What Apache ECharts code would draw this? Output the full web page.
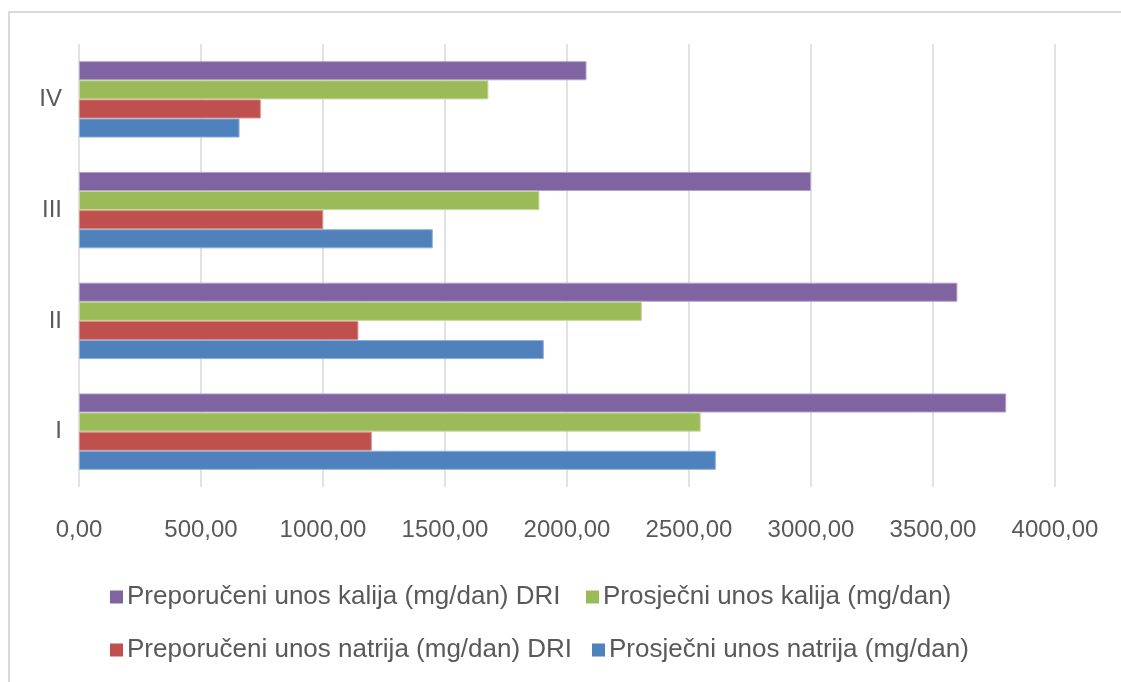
<!DOCTYPE html>
<html>
<head>
<meta charset="utf-8">
<script src="https://cdn.jsdelivr.net/npm/echarts@6/dist/echarts.min.js"></script>
<style>
html,body{margin:0;padding:0;background:#fff;}
#c{width:1121px;height:682px;}
</style>
</head>
<body>
<div id="c"></div>
<script>
const categories = ['I', 'II', 'III', 'IV'];
const xTicks = [0, 500, 1000, 1500, 2000, 2500, 3000, 3500, 4000];
const seriesNames = [
  'Preporučeni unos kalija (mg/dan) DRI',
  'Prosječni unos kalija (mg/dan)',
  'Preporučeni unos natrija (mg/dan) DRI',
  'Prosječni unos natrija (mg/dan)'
];
const preporuceniKalij = [3800, 3600, 3000, 2080];
const prosjecniKalij = [2548, 2307, 1887, 1678];
const preporuceniNatrij = [1200, 1145, 1000, 745];
const prosjecniNatrij = [2610, 1905, 1450, 658];
const colors = ['#8064A2', '#9BBB59', '#C0504D', '#4F81BD'];
const borderColors = ['#B3A0CB', '#C5DA9C', '#DA8C8A', '#8FB0DA'];

const valuesList = [preporuceniKalij, prosjecniKalij, preporuceniNatrij, prosjecniNatrij];
const font = '"Liberation Sans", Arial, sans-serif';
const textColor = '#595959';

const chart = echarts.init(document.getElementById('c'), null, {renderer: 'canvas'});

function legendAt(name, left, top) {
  return {
    data: [name], left: left, top: top, orient: 'horizontal',
    itemWidth: 13, itemHeight: 13, itemGap: 0, icon: 'rect',
    selectedMode: false,
    itemStyle: {borderWidth: 0},
    textStyle: {color: textColor, fontSize: 26, fontFamily: font, padding: [0, 0, 0, -1]}
  };
}

chart.setOption({
  animation: false,
  backgroundColor: '#fff',
  color: colors,
  graphic: [{
    type: 'rect', silent: true, z: -10,
    shape: {x: 9, y: 12, width: 1300, height: 900},
    style: {fill: 'none', stroke: '#D9D9D9', lineWidth: 2}
  }],
  legend: [
    legendAt(seriesNames[0], 105, 579),
    legendAt(seriesNames[1], 581, 579),
    legendAt(seriesNames[2], 105, 632),
    legendAt(seriesNames[3], 587, 632)
  ],
  grid: {left: 79, right: 66, top: 44, bottom: 195, containLabel: false},
  xAxis: {
    type: 'value', min: 0, max: 4000, interval: 500,
    axisLine: {show: false}, axisTick: {show: false},
    splitLine: {show: true, lineStyle: {color: '#D9D9D9', width: 1.5}},
    axisLabel: {
      color: textColor, fontSize: 24, fontFamily: font, margin: 31,
      formatter: v => xTicks.includes(v) ? v.toFixed(2).replace('.', ',') : ''
    }
  },
  yAxis: {
    type: 'category', data: categories,
    axisLine: {show: false}, axisTick: {show: false},
    axisLabel: {color: textColor, fontSize: 24, fontFamily: font, margin: 17}
  },
  series: seriesNames.map((n, i) => ({
    name: n, type: 'bar', data: valuesList[i],
    barGap: '0%', barCategoryGap: '31%',
    itemStyle: {color: colors[i], borderColor: borderColors[i], borderWidth: 1}
  }))
});
</script>
</body>
</html>
